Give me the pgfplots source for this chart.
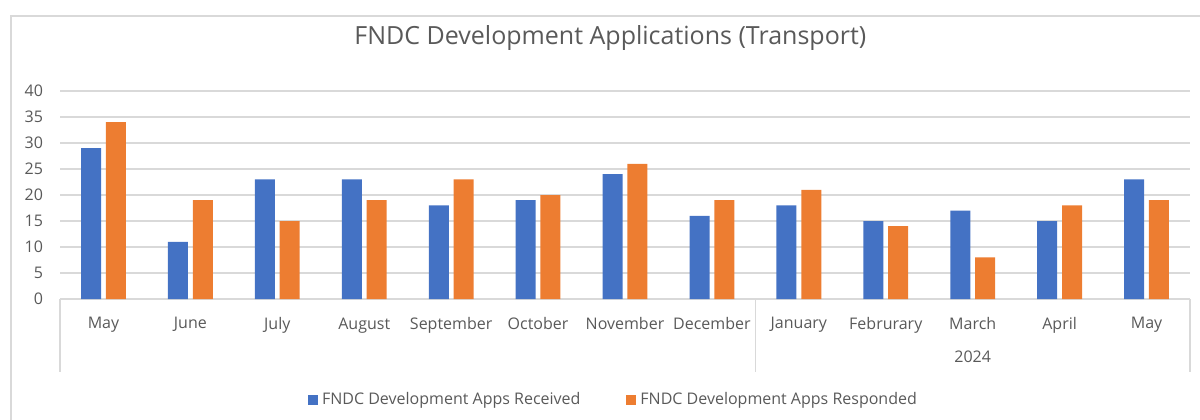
\documentclass[border=0pt]{standalone}
\usepackage{fontspec}
\setmainfont{Open Sans}
\usepackage{pgfplots}
\pgfplotsset{compat=1.18}

\definecolor{recv}{HTML}{4472C4}
\definecolor{resp}{HTML}{ED7D31}
\definecolor{gridc}{HTML}{D9D9D9}
\definecolor{txt}{HTML}{595959}

\begin{document}
\begin{tikzpicture}
\useasboundingbox (0,0) rectangle (600bp,210bp);
% chart frame (only top and left edge are inside the crop)
\draw[gridc, line width=0.75bp] (5.5bp,-5bp) -- (5.5bp,202bp) -- (610bp,202bp);

\begin{axis}[
  at={(30bp,60.5bp)}, anchor=south west,
  scale only axis, width=565bp, height=104bp,
  clip=false,
  ybar=2.4bp, bar width=10bp,
  xmin=-0.5, xmax=12.5, ymin=0, ymax=40,
  xtick={0,...,12},
  xticklabels={May,June,July,August,September,October,November,December,January,Februrary,March,April,May},
  ytick={0,5,...,40},
  axis x line*=bottom, axis y line*=left,
  x axis line style={gridc, line width=0.75bp, -},
  y axis line style={draw=none},
  xtick style={draw=none}, ytick style={draw=none},
  ymajorgrids, grid style={gridc, line width=0.75bp},
  /pgf/number format/assume math mode=true,
  tick label style={font=\fontsize{8bp}{9bp}\selectfont, text=txt},
  x tick label style={yshift=-1.5bp},
  yticklabel style={anchor=east, xshift=-5bp},
  title={FNDC Development Applications (Transport)},
  title style={font=\fontsize{12.5bp}{14bp}\selectfont, text=txt, at={(0.487,1)}, anchor=center, yshift=20.5bp},
  legend columns=2,
  legend style={at={(0.4907,-0.485)}, anchor=center, draw=none, fill=none,
    font=\fontsize{8bp}{9bp}\selectfont, text=txt,
    /tikz/every even column/.append style={column sep=21bp}},
  legend image code/.code={\fill[#1] (0bp,-2.5bp) rectangle (5bp,2.5bp);},
]
\addplot[fill=recv, draw=none] coordinates {
(0,29) (1,11) (2,23) (3,23) (4,18) (5,19) (6,24) (7,16) (8,18) (9,15) (10,17) (11,15) (12,23)};
\addlegendentry{FNDC Development Apps Received}
\addplot[fill=resp, draw=none] coordinates {
(0,34) (1,19) (2,15) (3,19) (4,23) (5,20) (6,26) (7,19) (8,21) (9,14) (10,8) (11,18) (12,19)};
\addlegendentry{FNDC Development Apps Responded}
% group separators of the two-level category axis
\draw[gridc, line width=0.75bp] (axis cs:-0.5,0) -- ++(0bp,-36.5bp);
\draw[gridc, line width=0.75bp] (axis cs:7.5,0) -- ++(0bp,-36.5bp);
\draw[gridc, line width=0.75bp] (axis cs:12.5,0) -- ++(0bp,-36.5bp);
\node[font=\fontsize{8bp}{9bp}\selectfont, text=txt] at (axis cs:10,0) [yshift=-29bp] {2024};
\end{axis}
\end{tikzpicture}
\end{document}
